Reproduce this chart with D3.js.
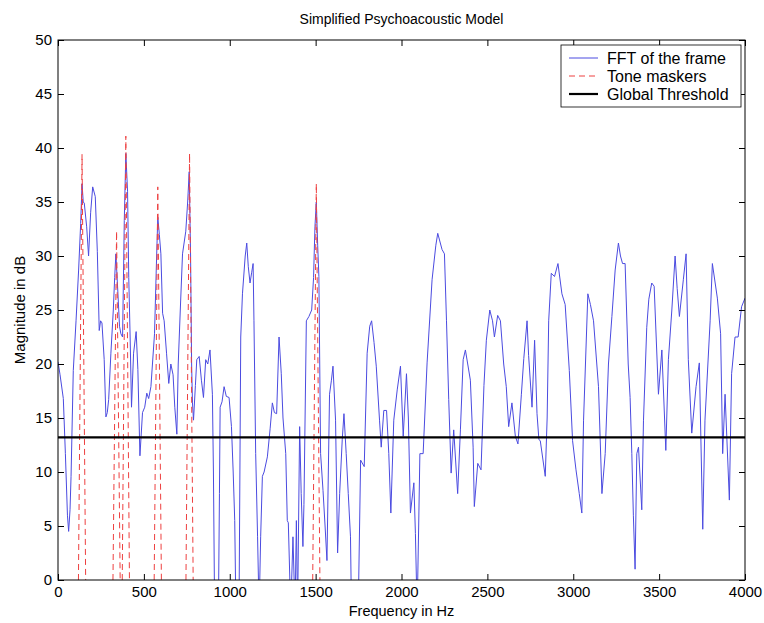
<!DOCTYPE html>
<html>
<head>
<meta charset="utf-8">
<script src="https://cdn.jsdelivr.net/npm/d3@7"></script>
<style>
  body { margin: 0; background: #fff; }
  text { font-family: "Liberation Sans", Arial, sans-serif; fill: #000; }
</style>
</head>
<body>
<div id="chart"></div>
<script>
// spectrum of the frame (Hz, dB)
const fftFreq = [0, 12, 31, 43, 55, 62, 70, 76, 89, 105, 120, 132, 140, 147, 153, 167, 178, 190, 202, 217,
  229, 240, 248, 256, 269, 279, 287, 295, 308, 322, 330, 337, 349, 358, 366, 376, 386, 395, 405, 412,
  420, 428, 440, 455, 465, 477, 492, 505, 517, 528, 541, 562, 572, 581, 590, 599, 609, 618, 632, 645,
  657, 670, 680, 692, 700, 712, 725, 744, 755, 764, 772, 778, 783, 789, 800, 808, 822, 835, 847, 860,
  872, 885, 899, 905, 912, 934, 940, 944, 955, 967, 980, 996, 1010, 1020, 1029, 1036, 1054, 1064, 1074, 1090,
  1099, 1108, 1118, 1128, 1136, 1141, 1151, 1162, 1171, 1180, 1190, 1200, 1219, 1235, 1248, 1260, 1273, 1287, 1300, 1310,
  1326, 1335, 1341, 1355, 1368, 1380, 1388, 1395, 1407, 1416, 1426, 1432, 1446, 1461, 1477, 1488, 1496, 1504, 1512, 1519,
  1529, 1543, 1555, 1566, 1581, 1592, 1601, 1616, 1628, 1640, 1655, 1665, 1678, 1690, 1703, 1709, 1748, 1762, 1783, 1800,
  1815, 1826, 1840, 1853, 1872, 1882, 1897, 1913, 1926, 1938, 1955, 1975, 1994, 2010, 2029, 2040, 2052, 2072, 2081, 2091,
  2100, 2107, 2126, 2149, 2178, 2200, 2211, 2236, 2250, 2262, 2275, 2289, 2304, 2327, 2343, 2359, 2372, 2401, 2417, 2424,
  2444, 2463, 2480, 2494, 2514, 2530, 2541, 2560, 2576, 2595, 2610, 2624, 2643, 2663, 2678, 2698, 2712, 2731, 2740, 2760,
  2775, 2789, 2800, 2808, 2837, 2848, 2857, 2872, 2891, 2911, 2934, 2953, 2977, 2996, 3016, 3035, 3050, 3060, 3085, 3100,
  3118, 3147, 3167, 3186, 3205, 3225, 3244, 3263, 3275, 3287, 3302, 3320, 3331, 3341, 3350, 3360, 3370, 3380, 3399, 3409,
  3428, 3440, 3457, 3471, 3496, 3516, 3539, 3554, 3574, 3593, 3605, 3618, 3641, 3657, 3670, 3690, 3715, 3734, 3754, 3767,
  3797, 3810, 3839, 3858, 3870, 3884, 3909, 3922, 3942, 3960, 3980, 4000]
const fftDb = [20.2, 19, 16.8, 11.7, 6, 4.5, 6.5, 9.6, 19.4, 24, 28.7, 33, 36.7, 35, 34.9, 32.7, 30, 34, 36.4, 35.5,
  30.4, 23.1, 24, 23.8, 20.4, 15.1, 15.5, 16.7, 21, 25, 28, 30.2, 26.5, 23.5, 22.8, 22.5, 33.3, 39.5, 36, 28,
  22.5, 16, 21, 23, 19.5, 11.5, 15.5, 16, 17.3, 16.8, 17.9, 22.8, 28.7, 33.6, 32, 30.2, 24.7, 24, 21, 18.2,
  20, 19, 16, 13.5, 20, 25, 30.2, 32.3, 35, 37.8, 30, 20, 16.4, 14.8, 18, 20.4, 20.7, 18.5, 16.9, 20.4,
  20, 21.3, 17.2, 10, -3, -3, 8, 16, 16.5, 17.9, 17, 16.9, 14.2, 10, 5.5, -3, -3, 22.5, 26.5, 30,
  31.2, 29, 27.5, 28.5, 29.3, 24, 11.7, 4, -3, 4, 9.6, 10, 11.4, 14, 16.4, 15.5, 15.4, 22.5, 19.1, 15,
  11.7, 5.5, 5.3, -3, 4, -3, 5.5, -3, 14.2, 8, 3.1, 7, 24, 24.4, 25, 28, 32.7, 35, 31, 28.1,
  11.7, 8.3, 5, 1.8, 17.2, 18.5, 19.8, 14.8, 2.5, 8, 13, 15.4, 11.7, 8, 4, -3, -3, 11.1, 10.5, 21,
  23.5, 24, 22, 19.8, 14.8, 12.3, 15.7, 15.7, 11.7, 6.2, 14.8, 17.6, 19.8, 13.3, 19.1, 15, 6.2, 9, 4.3, -3,
  5, 11.7, 11.7, 20.1, 27.8, 31, 32.1, 30.6, 30.2, 24, 16.7, 9.9, 13.9, 8, 13.9, 20.4, 21.3, 18.5, 12.3, 6.8,
  10.8, 10.2, 18, 22.2, 25, 24, 22.5, 24.5, 24, 20, 17.9, 14.2, 16.4, 13.3, 12.6, 17.2, 20.5, 24, 20.8, 16,
  22.2, 15.4, 13, 12.9, 9.6, 15, 24, 28.4, 28.1, 29.3, 26.5, 25.5, 19.4, 12.9, 10.2, 8, 6.2, 14.8, 26.5, 25.5,
  24, 17.9, 8, 11.7, 20, 24.4, 28.7, 31.2, 30, 29.3, 29.3, 20, 16.9, 11.7, 6, 1, 11.7, 12.3, 6.5, 14.8,
  23.4, 26, 27.5, 27.2, 17.2, 21.3, 12, 20.4, 25, 30, 27, 24.4, 27.8, 30.2, 20.4, 13.6, 17.9, 20.1, 4.7, 14.8,
  24, 29.3, 26.1, 22.8, 11.7, 17.2, 7.4, 19.1, 22.5, 22.5, 25.3, 26.1]

// tone maskers (Hz, dB) and the global threshold (dB)
const maskerFreq = [140, 341, 395, 581, 766, 1504]
const maskerDb = [39.4, 32.3, 41.1, 36.4, 39.5, 36.7]
const maskerSpread = 21
const thresholdDb = 13.2

const xTicks = d3.range(0, 4001, 500)
const yTicks = d3.range(0, 51, 5)
const legendLabels = ['FFT of the frame', 'Tone maskers', 'Global Threshold']

const width = 764
const height = 623
const margin = {top: 40, right: 19, bottom: 43, left: 58}

const svg = d3.select('#chart')
  .append('svg')
    .attr('width', width)
    .attr('height', height)

const x = d3.scaleLinear()
  .domain([0, 4000])
  .range([margin.left, width - margin.right])

const y = d3.scaleLinear()
  .domain([0, 50])
  .range([height - margin.bottom, margin.top])

svg.append('clipPath')
    .attr('id', 'plot-clip')
  .append('rect')
    .attr('x', x(0))
    .attr('y', y(50))
    .attr('width', x(4000) - x(0))
    .attr('height', y(0) - y(50))

const plot = svg.append('g').attr('clip-path', 'url(#plot-clip)')

const line = d3.line()
  .x(d => x(d[0]))
  .y(d => y(d[1]))

// FFT of the frame
plot.append('path')
  .datum(fftFreq.map((f, i) => [f, fftDb[i]]))
  .attr('fill', 'none')
  .attr('stroke', '#4b4be0')
  .attr('stroke-width', 1)
  .attr('d', line)

// tone maskers, drawn as narrow spikes
plot.selectAll('.masker')
  .data(maskerFreq.map((f, i) => [[f - maskerSpread, 0], [f, maskerDb[i]], [f + maskerSpread, 0]]))
  .join('path')
    .attr('class', 'masker')
    .attr('fill', 'none')
    .attr('stroke', '#ee4040')
    .attr('stroke-width', 1)
    .attr('stroke-dasharray', '6,4')
    .attr('d', line)

// global threshold
plot.append('path')
  .datum([[0, thresholdDb], [4000, thresholdDb]])
  .attr('fill', 'none')
  .attr('stroke', '#000')
  .attr('stroke-width', 2.2)
  .attr('d', line)

// axes, ticks pointing inwards on all four sides
const styleAxis = g => {
  g.select('.domain').remove()
  g.selectAll('line').attr('stroke', '#000')
  g.selectAll('text').style('font-size', '15px').attr('fill', '#000')
}

svg.append('g')
  .attr('transform', 'translate(0,' + y(0) + ')')
  .call(d3.axisBottom(x).tickValues(xTicks).tickFormat(d3.format('d'))
    .tickSize(-6).tickSizeOuter(0).tickPadding(6))
  .call(styleAxis)

svg.append('g')
  .attr('transform', 'translate(0,' + y(50) + ')')
  .call(d3.axisTop(x).tickValues(xTicks).tickSize(-6).tickSizeOuter(0).tickFormat(''))
  .call(styleAxis)

svg.append('g')
  .attr('transform', 'translate(' + x(0) + ',0)')
  .call(d3.axisLeft(y).tickValues(yTicks).tickFormat(d3.format('d'))
    .tickSize(-6).tickSizeOuter(0).tickPadding(6))
  .call(styleAxis)

svg.append('g')
  .attr('transform', 'translate(' + x(4000) + ',0)')
  .call(d3.axisRight(y).tickValues(yTicks).tickSize(-6).tickSizeOuter(0).tickFormat(''))
  .call(styleAxis)

svg.append('rect')
  .attr('x', x(0))
  .attr('y', y(50))
  .attr('width', x(4000) - x(0))
  .attr('height', y(0) - y(50))
  .attr('fill', 'none')
  .attr('stroke', '#000')
  .attr('stroke-width', 1)

// title and axis labels
svg.append('text')
  .attr('x', (x(0) + x(4000)) / 2)
  .attr('y', 24)
  .attr('text-anchor', 'middle')
  .style('font-size', '14px')
  .text('Simplified Psychoacoustic Model')

svg.append('text')
  .attr('x', (x(0) + x(4000)) / 2)
  .attr('y', 616)
  .attr('text-anchor', 'middle')
  .style('font-size', '14.5px')
  .text('Frequency in Hz')

svg.append('text')
  .attr('transform', 'translate(25,' + (y(0) + y(50)) / 2 + ') rotate(-90)')
  .attr('text-anchor', 'middle')
  .style('font-size', '15px')
  .text('Magnitude in dB')

// legend
const legend = svg.append('g').attr('transform', 'translate(561,45)')

legend.append('rect')
  .attr('width', 180)
  .attr('height', 62)
  .attr('fill', '#fff')
  .attr('stroke', '#000')
  .attr('stroke-width', 0.8)

const legendStyles = [
  {stroke: '#4b4be0', width: 1, dash: null},
  {stroke: '#ee4040', width: 1, dash: '6,4'},
  {stroke: '#000', width: 2.2, dash: null}
]

const rows = legend.selectAll('.row')
  .data(legendLabels)
  .join('g')
    .attr('class', 'row')
    .attr('transform', (d, i) => 'translate(0,' + (13 + i * 18) + ')')

rows.append('line')
  .attr('x1', 8)
  .attr('x2', 37)
  .attr('stroke', (d, i) => legendStyles[i].stroke)
  .attr('stroke-width', (d, i) => legendStyles[i].width)
  .attr('stroke-dasharray', (d, i) => legendStyles[i].dash)

rows.append('text')
  .attr('x', 46)
  .attr('dy', '0.35em')
  .style('font-size', '16px')
  .text(d => d)
</script>
</body>
</html>
